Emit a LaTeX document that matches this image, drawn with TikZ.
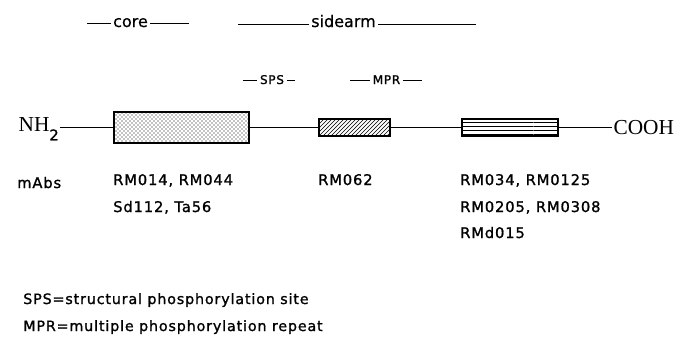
\documentclass[tikz,border=0pt]{standalone}
\usepackage{fontspec}
\setmainfont{DejaVu Sans}
\newfontfamily\lblfont[LetterSpace=6, FakeBold=1.2]{DejaVu Sans}
\newfontfamily\hdrfont[FakeBold=0.6]{DejaVu Sans}
\newfontfamily\chemfont{Liberation Serif}
\usetikzlibrary{positioning, patterns}

\begin{document}
\begin{tikzpicture}[x=0.75pt, y=-0.75pt,
    hdr/.style={anchor=base, inner sep=1.5pt, font=\hdrfont\fontsize{12}{14}\selectfont},
    subhdr/.style={anchor=base, inner sep=2pt, font=\lblfont\fontsize{9}{11}\selectfont},
    lbl/.style={anchor=base west, inner sep=0pt, font=\lblfont\fontsize{11}{13}\selectfont},
    keytext/.style={anchor=base west, inner sep=0pt, font=\lblfont\fontsize{10.7}{13}\selectfont},
    term/.style={anchor=base west, inner sep=1pt, font=\chemfont\fontsize{16}{18}\selectfont},
    dombox/.style={draw, line width=1.5pt, inner sep=0pt, anchor=west},
    bar/.style={line width=0.75pt},
    chainline/.style={line width=0.75pt}]
  \useasboundingbox (0,0) rectangle (685,343);

  % region headers
  \node[hdr] (hcore) at (130.5,27) {core};
  \coordinate (hcoreA) at (87,23);
  \coordinate (hcoreB) at (189,23);
  \draw[bar] (hcoreA) -- (hcoreA -| hcore.west);
  \draw[bar] (hcoreB -| hcore.east) -- (hcoreB);

  \node[hdr] (hside) at (343.5,27) {sidearm};
  \coordinate (hsideA) at (238,24);
  \coordinate (hsideB) at (476,24);
  \draw[bar] (hsideA) -- (hsideA -| hside.west);
  \draw[bar] (hsideB -| hside.east) -- (hsideB);

  \node[subhdr] (hsps) at (272,84) {SPS};
  \coordinate (hspsA) at (243,80);
  \coordinate (hspsB) at (295,80);
  \draw[bar] (hspsA) -- (hspsA -| hsps.west);
  \draw[bar] (hspsB -| hsps.east) -- (hspsB);

  \node[subhdr] (hmpr) at (386.5,84) {MPR};
  \coordinate (hmprA) at (350,80);
  \coordinate (hmprB) at (422,80);
  \draw[bar] (hmprA) -- (hmprA -| hmpr.west);
  \draw[bar] (hmprB -| hmpr.east) -- (hmprB);

  % protein chain
  \node[term] (nh2) at (17,131) {NH{\fontsize{11}{12}\selectfont\lblfont\raisebox{-7pt}{2}}};
  \node[dombox, pattern=crosshatch dots, minimum width=101.25pt, minimum height=23.25pt] (core) at (113,127) {};
  \node[dombox, pattern=north east lines, minimum width=53.25pt, minimum height=12.75pt] (sps) at (318,127) {};
  \node[dombox, pattern=horizontal lines, minimum width=72pt, minimum height=12.75pt] (mpr) at (461,127) {};
  \node[term] (cooh) at (612,134) {COOH};

  \draw[chainline] (core.west) -- (core.west -| nh2.east);
  \draw[chainline] (core.east) -- (sps.west);
  \draw[chainline] (sps.east) -- (mpr.west);
  \draw[chainline] (mpr.east) -- (mpr.east -| cooh.west);

  % antibodies
  \node[lbl] (mabs) at (17,188) {mAbs};
  \node[lbl] (abcore1) at (113,185) {RM014, RM044};
  \node[lbl] (abcore2) at (113,212) {Sd112, Ta56};
  \node[lbl] (absps) at (318,185) {RM062};
  \node[lbl] (abmpr1) at (460,185) {RM034, RM0125};
  \node[lbl] (abmpr2) at (460,212) {RM0205, RM0308};
  \node[lbl] (abmpr3) at (460,238) {RMd015};

  % key
  \node[keytext] (keysps) at (23,304) {SPS=structural phosphorylation site};
  \node[keytext] (keympr) at (23,331) {MPR=multiple phosphorylation repeat};
\end{tikzpicture}
\end{document}
